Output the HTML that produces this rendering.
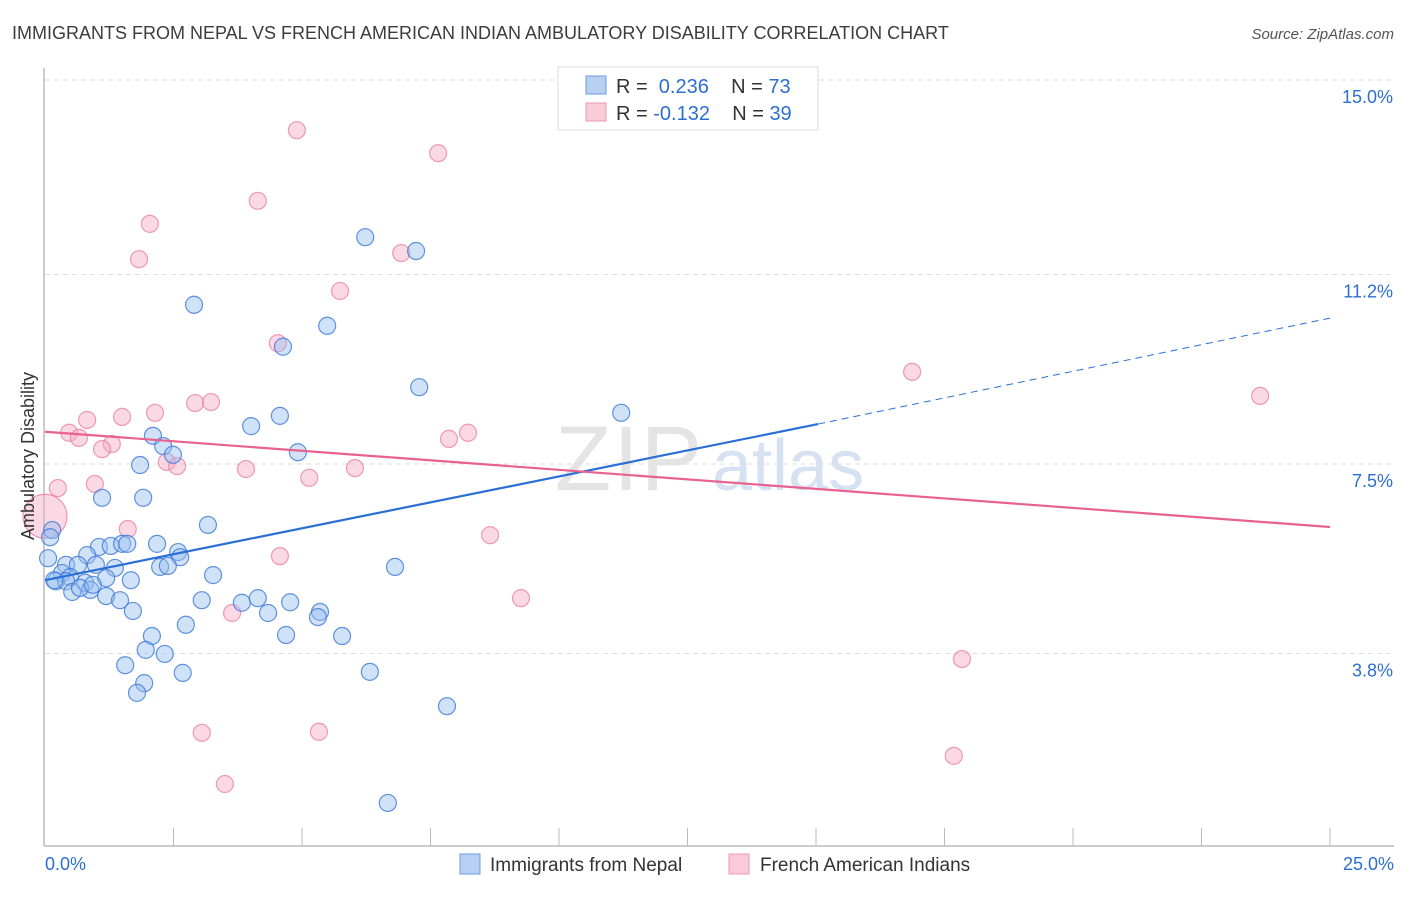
<!DOCTYPE html>
<html><head><meta charset="utf-8"><style>
body{margin:0;background:#fff;font-family:"Liberation Sans",sans-serif;}
svg text{font-family:"Liberation Sans",sans-serif;}
</style></head><body>
<svg id="chart" width="1406" height="892" xmlns="http://www.w3.org/2000/svg">
<text x="12" y="39" font-size="18" fill="#3c3c3c">IMMIGRANTS FROM NEPAL VS FRENCH AMERICAN INDIAN AMBULATORY DISABILITY CORRELATION CHART</text>
<text x="1394" y="39" font-size="15" fill="#555" text-anchor="end" font-style="italic">Source: ZipAtlas.com</text>
<text x="555" y="490" font-size="92" fill="#e4e4e4" font-family="Liberation Serif" letter-spacing="2">ZIP</text>
<text x="712" y="490" font-size="72" fill="#d6e2f2">atlas</text>
<g id="grid"></g>
<g id="axes"></g>
<g id="pts"></g>
<g id="trends"></g>
<text transform="translate(34,456) rotate(-90)" font-size="18" fill="#333" text-anchor="middle">Ambulatory Disability</text>
<g>
<rect x="558" y="67" width="260" height="63" fill="#fff" stroke="#ddd"/>
<rect x="586" y="76" width="20" height="18" fill="#b8d0f2" stroke="#6a9ee0"/>
<rect x="586" y="103" width="20" height="18" fill="#f9cad8" stroke="#ec9ab3"/>
<text x="616" y="93" font-size="20" fill="#333">R = <tspan fill="#2d6fd0">&#160;0.236</tspan>&#160;&#160;&#160; N = <tspan fill="#2d6fd0">73</tspan></text>
<text x="616" y="120" font-size="20" fill="#333">R = <tspan fill="#2d6fd0">-0.132</tspan>&#160;&#160;&#160; N = <tspan fill="#2d6fd0">39</tspan></text>
</g>
<g>
<rect x="460" y="854" width="20" height="20" fill="#b8d0f2" stroke="#6a9ee0"/>
<text x="490" y="871" font-size="19" fill="#333">Immigrants from Nepal</text>
<rect x="729" y="854" width="20" height="20" fill="#f9cad8" stroke="#ec9ab3"/>
<text x="760" y="871" font-size="19" fill="#333">French American Indians</text>
</g>
</svg>
<script>
const yTicks=[3.8,7.5,11.2,15.0];
const yTickLabels=["3.8%","7.5%","11.2%","15.0%"];
const xTickLabels=["0.0%","25.0%"];
const blueX=[6.23,7.22,2.90,5.49,4.63,7.28,11.21,4.57,4.01,2.10,2.30,4.92,2.49,1.85,1.11,1.91,3.17,0.14,0.10,0.06,2.18,1.05,0.82,1.28,1.50,1.60,2.59,2.63,0.41,0.64,0.99,1.36,2.24,2.39,6.81,0.33,0.49,3.27,0.21,0.41,0.18,1.19,1.67,0.78,0.88,0.53,0.68,0.93,1.19,1.46,3.05,3.83,4.14,4.77,1.71,4.34,5.35,5.31,2.74,2.08,4.69,5.78,1.96,2.33,1.56,2.68,6.32,1.93,1.79,7.82,6.67];
const blueY=[11.93,11.66,10.61,10.20,9.79,9.00,8.50,8.44,8.24,8.05,7.85,7.73,7.68,7.48,6.84,6.84,6.31,6.21,6.07,5.66,5.94,5.88,5.72,5.90,5.94,5.94,5.78,5.68,5.53,5.53,5.53,5.47,5.49,5.51,5.49,5.37,5.29,5.33,5.21,5.21,5.23,5.27,5.23,5.18,5.04,5.00,5.08,5.14,4.92,4.84,4.84,4.79,4.88,4.80,4.63,4.59,4.61,4.51,4.36,4.14,4.16,4.14,3.87,3.79,3.57,3.42,3.44,3.22,3.03,2.77,0.88];
const pinkX=[4.90,7.65,4.14,2.04,1.83,6.93,5.74,4.53,16.87,23.64,1.50,0.82,2.14,2.92,3.23,0.47,0.66,1.30,1.11,7.86,8.23,2.37,2.57,3.91,6.03,5.14,0.97,0.25,1.61,8.66,4.57,9.26,3.64,17.84,3.05,5.33,3.50,17.68];
const pinkY=[14.02,13.57,12.64,12.19,11.50,11.62,10.88,9.86,9.30,8.83,8.42,8.36,8.50,8.69,8.71,8.11,8.01,7.89,7.79,7.99,8.11,7.54,7.46,7.40,7.42,7.23,7.11,7.03,6.23,6.11,5.70,4.88,4.59,3.69,2.25,2.27,1.25,1.80];
const bigPinkX=[0.0], bigPinkY=[6.48];
const blueTrend=[0,5.23,15.04,8.28,25,10.35];
const pinkTrend=[0,8.13,25,6.27];
const NS="http://www.w3.org/2000/svg";
const X=v=>45+v/25*1285, Y=v=>80+(15-v)*51.2;
function mk(t,a,parent){const e=document.createElementNS(NS,t);for(const k in a)e.setAttribute(k,a[k]);document.getElementById(parent).appendChild(e);return e;}
yTicks.forEach((t,i)=>{
 const l=mk('line',{x1:45,x2:1394,y1:Y(t),y2:Y(t),stroke:'#ddd','stroke-dasharray':'5,4'},'grid');
 
 
 const tx=mk('text',{x:1393,y:Y(t)+23,'font-size':18,fill:'#2d6fd0','text-anchor':'end'},'grid');tx.textContent=yTickLabels[i];
 
 
});
const ax=mk('line',{x1:44,x2:44,y1:68,y2:846,stroke:'#bbb','stroke-width':1.5},'axes');


const bx=mk('line',{x1:44,x2:1394,y1:846,y2:846,stroke:'#bbb','stroke-width':1.5},'axes');


for(let i=1;i<=10;i++){const t=mk('line',{x1:X(i*2.5),x2:X(i*2.5),y1:828,y2:846,stroke:'#bbb'},'axes');
 
 }
[[0,'start',45],[25,'end',1394]].forEach((d,i)=>{const t=mk('text',{x:d[2],y:870,'font-size':18,fill:'#2d6fd0','text-anchor':d[1]},'axes');t.textContent=xTickLabels[i];
 
 });
function pts(xs,ys,fill,stroke,name,r){xs.forEach((x,i)=>{const c=mk('circle',{cx:X(x),cy:Y(ys[i]),r:r,fill:fill,stroke:stroke,'stroke-width':1.2},'pts');
 
 });}
pts(pinkX,pinkY,'rgba(246,170,195,0.45)','rgba(232,130,165,0.8)','nepal-point-pink',8.5);
pts(bigPinkX,bigPinkY,'rgba(246,170,195,0.45)','rgba(232,130,165,0.8)','french-american-indian-point-large',22);
pts(blueX,blueY,'rgba(150,190,240,0.45)','rgba(60,120,215,0.8)','nepal-point',8.5);
const b1=mk('line',{x1:X(blueTrend[0]),y1:Y(blueTrend[1]),x2:X(blueTrend[2]),y2:Y(blueTrend[3]),stroke:'#2a6fd6','stroke-width':2.2},'trends');


const b2=mk('line',{x1:X(blueTrend[2]),y1:Y(blueTrend[3]),x2:X(blueTrend[4]),y2:Y(blueTrend[5]),stroke:'#2a6fd6','stroke-width':1,'stroke-dasharray':'7,5'},'trends');


const p1=mk('line',{x1:X(pinkTrend[0]),y1:Y(pinkTrend[1]),x2:X(pinkTrend[2]),y2:Y(pinkTrend[3]),stroke:'#e8618f','stroke-width':2.2},'trends');


</script>
</body></html>
